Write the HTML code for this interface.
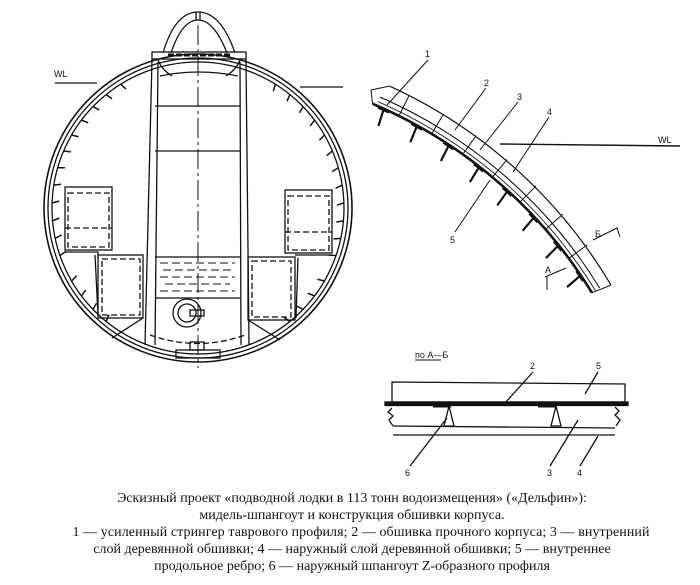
<!DOCTYPE html>
<html><head><meta charset="utf-8"><style>
html,body{margin:0;padding:0;background:#fff}
svg{display:block}
text{font-family:"Liberation Sans",sans-serif;fill:#111}
.cap{font-family:"Liberation Serif",serif;font-size:14px;text-anchor:middle}
</style></head><body>
<svg width="700" height="585" viewBox="0 0 700 585" xmlns="http://www.w3.org/2000/svg">
<defs>
<line id="tk" x1="198" y1="62" x2="200" y2="69" stroke="#111" stroke-width="1.5"/>
<g id="str" stroke="#111" fill="none">
<line x1="187" y1="67" x2="189" y2="84" stroke-width="2.2"/>
<line x1="181" y1="67" x2="193" y2="67" stroke-width="3"/>
</g>
<line id="fr" x1="187" y1="66" x2="187" y2="43" stroke="#111" stroke-width="1"/>
</defs>
<g fill="none" stroke="#111" stroke-width="1.3">
<circle cx="198" cy="208" r="154" stroke-width="1.6"/>
<circle cx="198" cy="208" r="150"/>
<circle cx="198" cy="208" r="146"/>
</g>
<g>
<use href="#tk" transform="rotate(-32 198 208)"/><use href="#tk" transform="rotate(-39 198 208)"/>
<use href="#tk" transform="rotate(-46 198 208)"/><use href="#tk" transform="rotate(-53 198 208)"/>
<use href="#tk" transform="rotate(-60 198 208)"/><use href="#tk" transform="rotate(-67 198 208)"/>
<use href="#tk" transform="rotate(-74 198 208)"/><use href="#tk" transform="rotate(-81 198 208)"/>
<use href="#tk" transform="rotate(-88 198 208)"/><use href="#tk" transform="rotate(-95 198 208)"/>
<use href="#tk" transform="rotate(-102 198 208)"/><use href="#tk" transform="rotate(-109 198 208)"/>
<use href="#tk" transform="rotate(-120 198 208)"/><use href="#tk" transform="rotate(-127 198 208)"/>
<use href="#tk" transform="rotate(-134 198 208)"/><use href="#tk" transform="rotate(-141 198 208)"/>
<use href="#tk" transform="rotate(32 198 208)"/><use href="#tk" transform="rotate(39 198 208)"/>
<use href="#tk" transform="rotate(46 198 208)"/><use href="#tk" transform="rotate(53 198 208)"/>
<use href="#tk" transform="rotate(60 198 208)"/><use href="#tk" transform="rotate(67 198 208)"/>
<use href="#tk" transform="rotate(74 198 208)"/><use href="#tk" transform="rotate(81 198 208)"/>
<use href="#tk" transform="rotate(88 198 208)"/><use href="#tk" transform="rotate(95 198 208)"/>
<use href="#tk" transform="rotate(102 198 208)"/><use href="#tk" transform="rotate(109 198 208)"/>
<use href="#tk" transform="rotate(120 198 208)"/><use href="#tk" transform="rotate(127 198 208)"/>
<use href="#tk" transform="rotate(134 198 208)"/><use href="#tk" transform="rotate(141 198 208)"/>
</g>
<g fill="none" stroke="#111" stroke-width="1.3">
<path d="M163,53 Q175,12 198,12 Q221,12 235,53"/>
<path d="M171,53 Q182,20 198,20 Q214,20 227,53"/>
<line x1="196" y1="12" x2="196" y2="20"/><line x1="200" y1="12" x2="200" y2="20"/>
<rect x="152" y="52" width="94" height="7"/>
<path d="M168,55 h62" stroke-width="3" stroke-dasharray="6 2"/>
<path d="M158,60 q4,10 14,16 M240,60 q-4,10 -14,16"/>
<path d="M160,76 Q198,68 238,76"/>
<path d="M152,59 L145,345 M158,62 L155,345 M246,59 L249,345 M240,62 L241,345"/>
<line x1="155" y1="106" x2="240" y2="106"/>
<line x1="155" y1="151" x2="240" y2="151"/>
<line x1="155" y1="257" x2="240" y2="257"/>
<line x1="155" y1="298" x2="240" y2="298"/>
<g stroke-dasharray="8 4" stroke-width="1">
<path d="M160,263 h75 M163,270 h70 M160,277 h75 M165,284 h65 M160,291 h75"/>
</g>
<line x1="198" y1="25" x2="198" y2="368" stroke-dasharray="20 4 3 4" stroke-width="1"/>
<circle cx="187" cy="313" r="14"/><circle cx="187" cy="313" r="9"/>
<rect x="190" y="310" width="14" height="6"/>
<rect x="176" y="350" width="44" height="8"/>
<rect x="190" y="342" width="14" height="8"/>
<path d="M150,335 Q198,352 245,335" stroke-dasharray="6 3"/>
<rect x="65" y="187" width="47" height="63"/>
<rect x="68" y="193" width="41" height="54" stroke-dasharray="6 3"/>
<line x1="65" y1="228" x2="112" y2="228" stroke-dasharray="6 3"/>
<rect x="285" y="190" width="47" height="63"/>
<rect x="288" y="196" width="41" height="54" stroke-dasharray="6 3"/>
<line x1="285" y1="232" x2="332" y2="232" stroke-dasharray="6 3"/>
<rect x="98" y="255" width="45" height="63"/>
<rect x="102" y="259" width="38" height="56" stroke-dasharray="6 3"/>
<rect x="248" y="257" width="47" height="63"/>
<rect x="252" y="261" width="39" height="56" stroke-dasharray="6 3"/>
<path d="M65,252 h33 v6 M295,255 h35 M95,255 l3,60 M298,258 l-2,60"/>
<path d="M143,318 L112,338 M248,320 L280,340"/>
<line x1="55" y1="83" x2="97" y2="83"/>
<line x1="300" y1="87" x2="343" y2="87"/>
</g>
<!-- right detail arc: center (187,541) -->
<g fill="none" stroke="#111">
<path d="M372.6,103.8 A475,475 0 0 1 592,292.8" stroke-width="2.6"/>
<path d="M378,101.7 A479,479 0 0 1 595.4,290.7" stroke-width="0.9"/>
<path d="M380,97.1 A484,484 0 0 1 599.7,288.1" stroke-width="1.1"/>
<path d="M389.5,86.1 A498,498 0 0 1 611,285" stroke-width="1.2"/>
<path d="M372.6,103.8 L371,90 L389.5,86.1 M592,292.8 L611,285"/>
</g>
<g>
<use href="#str" transform="rotate(24.5 187 541)"/><use href="#str" transform="rotate(29 187 541)"/>
<use href="#str" transform="rotate(33.5 187 541)"/><use href="#str" transform="rotate(38 187 541)"/>
<use href="#str" transform="rotate(42.5 187 541)"/><use href="#str" transform="rotate(47 187 541)"/>
<use href="#str" transform="rotate(51.5 187 541)"/><use href="#str" transform="rotate(56 187 541)"/>
<use href="#fr" transform="rotate(26.5 187 541)"/><use href="#fr" transform="rotate(31 187 541)"/>
<use href="#fr" transform="rotate(35.5 187 541)"/><use href="#fr" transform="rotate(40 187 541)"/>
<use href="#fr" transform="rotate(44.5 187 541)"/><use href="#fr" transform="rotate(49 187 541)"/>
<use href="#fr" transform="rotate(53.5 187 541)"/>
</g>
<g fill="none" stroke="#111" stroke-width="1">
<path d="M428,60 L387,105 M486,88 L455,130 M518,102 L480,150 M549,117 L513,172 M455,232 L490,180"/>
<path d="M500,144 L680,146" stroke-width="1.4"/>
<path d="M593,240 L617,228 L620,237 M545,277 L566,268 M547,277 L547,290"/>
</g>
<g fill="none" stroke="#111" stroke-width="1.3">
<line x1="415" y1="360" x2="441" y2="360" stroke-width="0.9"/>
<path d="M392,382 L625,384 L625,402 L392,402 Z"/>
<rect x="385" y="402" width="243" height="3.5" fill="#111"/>
<path d="M433,406 h18 M538,406 h18" stroke-width="3"/>
<path d="M449,406 l-5,20 h10 z M556,406 l-5,20 h10 z"/>
<path d="M393,426 L615,428 M393,435 L615,435"/>
<path d="M392,408 l-4,4 l5,4 l-4,4 l4,6 M615,407 l4,4 l-4,4 l5,5 l-4,6"/>
<path d="M410,466 L447,418 M550,466 L578,420 M580,466 L598,436 M533,372 L505,403 M598,372 L585,394"/>
</g>
<text x="54" y="77" font-size="9">WL</text>
<text x="658" y="143" font-size="9">WL</text>
<text x="425" y="57" font-size="9">1</text>
<text x="484" y="86" font-size="9">2</text>
<text x="517" y="100" font-size="9">3</text>
<text x="547" y="115" font-size="9">4</text>
<text x="450" y="243" font-size="9">5</text>
<text x="595" y="237" font-size="9">Б</text>
<text x="545" y="273" font-size="9">А</text>
<text x="415" y="358" font-size="9">по А—Б</text>
<text x="530" y="369" font-size="9">2</text>
<text x="596" y="369" font-size="9">5</text>
<text x="405" y="476" font-size="9">6</text>
<text x="547" y="476" font-size="9">3</text>
<text x="577" y="476" font-size="9">4</text>
<text class="cap" x="352" y="502">Эскизный проект «подводной лодки в 113 тонн водоизмещения» («Дельфин»):</text>
<text class="cap" x="352" y="519">мидель-шпангоут и конструкция обшивки корпуса.</text>
<text class="cap" x="361" y="536" textLength="577">1 — усиленный стрингер таврового профиля; 2 — обшивка прочного корпуса; 3 — внутренний</text>
<text class="cap" x="352" y="553">слой деревянной обшивки; 4 — наружный слой деревянной обшивки; 5 — внутреннее</text>
<text class="cap" x="352" y="570">продольное ребро; 6 — наружный шпангоут Z-образного профиля</text>
</svg>
</body></html>
